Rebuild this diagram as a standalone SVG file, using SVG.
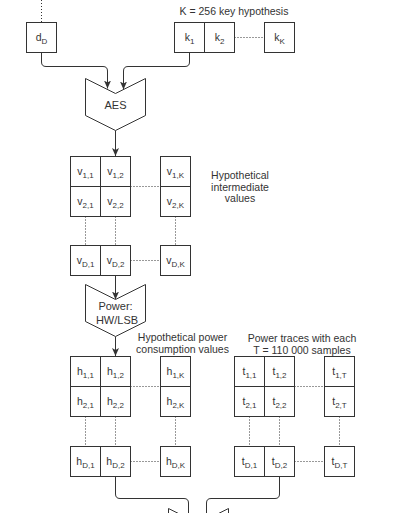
<svg xmlns="http://www.w3.org/2000/svg" width="420" height="513" viewBox="0 0 420 513">
<style>
.c{fill:#fff;stroke:#333;stroke-width:1}
.t{font-family:"Liberation Sans",Arial,sans-serif;font-size:10.5px;fill:#333;text-anchor:middle}
.s{font-size:8px}
.b{font-size:11px}
.d{fill:none;stroke:#333;stroke-width:1;stroke-dasharray:1 2}
.e{fill:none;stroke:#333;stroke-width:1}
</style>
<defs>
<marker id="ah" viewBox="0 0 8 8" refX="8" refY="4" markerWidth="8" markerHeight="8" markerUnits="userSpaceOnUse" orient="auto">
<path d="M0,0.5 L8,4 L0,7.5 L2,4 Z" fill="#333"/>
</marker>
</defs>
<rect width="420" height="513" fill="#fff"/>

<g id="ellipsis">
<path class="d" d="M41.5,0 V22.5"/>
<path class="d" d="M234.5,37.5 H264.5"/>
<path class="d" d="M130.5,186.5 H160.5 M130.5,260.5 H160.5 M85.5,216.5 V245.5 M115.5,216.5 V245.5 M175.5,216.5 V245.5"/>
<path class="d" d="M130.5,386.5 H160.5 M130.5,461.5 H160.5 M85.5,416.5 V446.5 M115.5,416.5 V446.5 M175.5,416.5 V446.5"/>
<path class="d" d="M294.5,386.5 H324.5 M294.5,461.5 H324.5 M249.5,416.5 V446.5 M279.5,416.5 V446.5 M339.5,416.5 V446.5"/>
</g>

<g id="connectors">
<path class="e" marker-end="url(#ah)" d="M41.5,52.5 V62 Q41.5,66.5 46,66.5 H103 Q107.5,66.5 107.5,71 V88.5"/>
<path class="e" marker-end="url(#ah)" d="M189.5,52.5 V62 Q189.5,66.5 185,66.5 H128 Q123.5,66.5 123.5,71 V89.5"/>
<path class="e" marker-end="url(#ah)" d="M115.5,130.5 V156"/>
<path class="e" marker-end="url(#ah)" d="M115.5,275.5 V299.5"/>
<path class="e" marker-end="url(#ah)" d="M115.5,336.5 V356"/>
<path class="e" d="M115.5,476.5 V494 Q115.5,498.5 120,498.5 H184 Q188.5,498.5 188.5,503 V520"/>
<path class="e" d="M279.5,476.5 V494 Q279.5,498.5 275,498.5 H211 Q206.5,498.5 206.5,503 V520"/>
</g>

<g id="label-keys"><text class="t" x="234" y="15">K = 256 key hypothesis</text></g>
<g id="label-intermediate"><text class="t" x="240" y="179">Hypothetical</text><text class="t" x="240" y="190.5">intermediate</text><text class="t" x="240" y="202">values</text></g>
<g id="label-power"><text class="t" x="182.5" y="341">Hypothetical power</text><text class="t" x="182.5" y="352.5">consumption values</text></g>
<g id="label-traces"><text class="t" x="302" y="342">Power traces with each</text><text class="t" x="302" y="353.5">T = 110 000 samples</text></g>

<g id="dD"><rect class="c" x="26.5" y="22.5" width="30" height="30"/><text class="t" x="41.5" y="40.5">d<tspan class="s" dy="3">D</tspan></text></g>
<g id="k1"><rect class="c" x="174.5" y="22.5" width="30" height="30"/><text class="t" x="189.5" y="40.5">k<tspan class="s" dy="3">1</tspan></text></g>
<g id="k2"><rect class="c" x="204.5" y="22.5" width="30" height="30"/><text class="t" x="219.5" y="40.5">k<tspan class="s" dy="3">2</tspan></text></g>
<g id="kK"><rect class="c" x="264.5" y="22.5" width="30" height="30"/><text class="t" x="279.5" y="40.5">k<tspan class="s" dy="3">K</tspan></text></g>

<g id="aes"><path class="c" d="M85.5,78.5 L115.5,93.5 L145.5,78.5 V115.5 L115.5,130.5 L85.5,115.5 Z"/><text class="t b" x="115.5" y="108.5">AES</text></g>

<g id="v11"><rect class="c" x="70.5" y="156.5" width="30" height="30"/><text class="t" x="85.5" y="174.5">v<tspan class="s" dy="3">1,1</tspan></text></g>
<g id="v12"><rect class="c" x="100.5" y="156.5" width="30" height="30"/><text class="t" x="115.5" y="174.5">v<tspan class="s" dy="3">1,2</tspan></text></g>
<g id="v1K"><rect class="c" x="160.5" y="156.5" width="30" height="30"/><text class="t" x="175.5" y="174.5">v<tspan class="s" dy="3">1,K</tspan></text></g>
<g id="v21"><rect class="c" x="70.5" y="186.5" width="30" height="30"/><text class="t" x="85.5" y="204.5">v<tspan class="s" dy="3">2,1</tspan></text></g>
<g id="v22"><rect class="c" x="100.5" y="186.5" width="30" height="30"/><text class="t" x="115.5" y="204.5">v<tspan class="s" dy="3">2,2</tspan></text></g>
<g id="v2K"><rect class="c" x="160.5" y="186.5" width="30" height="30"/><text class="t" x="175.5" y="204.5">v<tspan class="s" dy="3">2,K</tspan></text></g>
<g id="vD1"><rect class="c" x="70.5" y="245.5" width="30" height="30"/><text class="t" x="85.5" y="263.5">v<tspan class="s" dy="3">D,1</tspan></text></g>
<g id="vD2"><rect class="c" x="100.5" y="245.5" width="30" height="30"/><text class="t" x="115.5" y="263.5">v<tspan class="s" dy="3">D,2</tspan></text></g>
<g id="vDK"><rect class="c" x="160.5" y="245.5" width="30" height="30"/><text class="t" x="175.5" y="263.5">v<tspan class="s" dy="3">D,K</tspan></text></g>

<g id="power"><path class="c" d="M85.5,284.5 L115.5,299.5 L145.5,284.5 V321.5 L115.5,336.5 L85.5,321.5 Z"/><text class="t b" x="115.5" y="310">Power:</text><text class="t b" x="117" y="324">HW/LSB</text></g>

<g id="h11"><rect class="c" x="70.5" y="356.5" width="30" height="30"/><text class="t" x="85.5" y="374.5">h<tspan class="s" dy="3">1,1</tspan></text></g>
<g id="h12"><rect class="c" x="100.5" y="356.5" width="30" height="30"/><text class="t" x="115.5" y="374.5">h<tspan class="s" dy="3">1,2</tspan></text></g>
<g id="h1K"><rect class="c" x="160.5" y="356.5" width="30" height="30"/><text class="t" x="175.5" y="374.5">h<tspan class="s" dy="3">1,K</tspan></text></g>
<g id="h21"><rect class="c" x="70.5" y="386.5" width="30" height="30"/><text class="t" x="85.5" y="404.5">h<tspan class="s" dy="3">2,1</tspan></text></g>
<g id="h22"><rect class="c" x="100.5" y="386.5" width="30" height="30"/><text class="t" x="115.5" y="404.5">h<tspan class="s" dy="3">2,2</tspan></text></g>
<g id="h2K"><rect class="c" x="160.5" y="386.5" width="30" height="30"/><text class="t" x="175.5" y="404.5">h<tspan class="s" dy="3">2,K</tspan></text></g>
<g id="hD1"><rect class="c" x="70.5" y="446.5" width="30" height="30"/><text class="t" x="85.5" y="464.5">h<tspan class="s" dy="3">D,1</tspan></text></g>
<g id="hD2"><rect class="c" x="100.5" y="446.5" width="30" height="30"/><text class="t" x="115.5" y="464.5">h<tspan class="s" dy="3">D,2</tspan></text></g>
<g id="hDK"><rect class="c" x="160.5" y="446.5" width="30" height="30"/><text class="t" x="175.5" y="464.5">h<tspan class="s" dy="3">D,K</tspan></text></g>

<g id="t11"><rect class="c" x="234.5" y="356.5" width="30" height="30"/><text class="t" x="249.5" y="374.5">t<tspan class="s" dy="3">1,1</tspan></text></g>
<g id="t12"><rect class="c" x="264.5" y="356.5" width="30" height="30"/><text class="t" x="279.5" y="374.5">t<tspan class="s" dy="3">1,2</tspan></text></g>
<g id="t1T"><rect class="c" x="324.5" y="356.5" width="30" height="30"/><text class="t" x="339.5" y="374.5">t<tspan class="s" dy="3">1,T</tspan></text></g>
<g id="t21"><rect class="c" x="234.5" y="386.5" width="30" height="30"/><text class="t" x="249.5" y="404.5">t<tspan class="s" dy="3">2,1</tspan></text></g>
<g id="t22"><rect class="c" x="264.5" y="386.5" width="30" height="30"/><text class="t" x="279.5" y="404.5">t<tspan class="s" dy="3">2,2</tspan></text></g>
<g id="t2T"><rect class="c" x="324.5" y="386.5" width="30" height="30"/><text class="t" x="339.5" y="404.5">t<tspan class="s" dy="3">2,T</tspan></text></g>
<g id="tD1"><rect class="c" x="234.5" y="446.5" width="30" height="30"/><text class="t" x="249.5" y="464.5">t<tspan class="s" dy="3">D,1</tspan></text></g>
<g id="tD2"><rect class="c" x="264.5" y="446.5" width="30" height="30"/><text class="t" x="279.5" y="464.5">t<tspan class="s" dy="3">D,2</tspan></text></g>
<g id="tDT"><rect class="c" x="324.5" y="446.5" width="30" height="30"/><text class="t" x="339.5" y="464.5">t<tspan class="s" dy="3">D,T</tspan></text></g>

<g id="bottom-shape"><path class="e" d="M168.5,514 V508.5 L198.5,523.5 L228.5,508.5 V514"/></g>
</svg>
